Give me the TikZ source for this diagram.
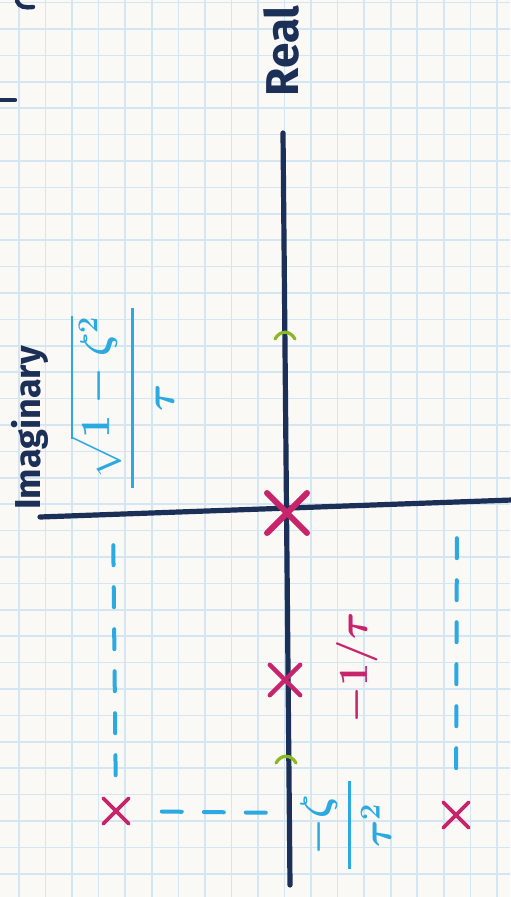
\documentclass[tikz,border=0pt]{standalone}
\usepackage{amsmath}
\usepackage{fontspec}
\newfontfamily\handfont{Fira Sans}
\usetikzlibrary{shapes.misc, positioning}
\definecolor{paper}{HTML}{FBF9F6}
\definecolor{gridblue}{HTML}{D4E6F2}
\definecolor{inknavy}{HTML}{1B2F57}
\definecolor{inkpink}{HTML}{C7246B}
\definecolor{inkcyan}{HTML}{2BA9E1}
\definecolor{inkgreen}{HTML}{8DB722}

\begin{document}
\begin{tikzpicture}[x=0.5pt, y=-0.5pt, line cap=round,
    axisline/.style={draw=inknavy, line width=2.6pt},
    pole/.style={cross out, draw=inkpink, line width=#1, inner sep=0pt},
    guide/.style={draw=inkcyan, line width=2pt, dash pattern=on 10pt off 11pt},
    greentick/.style={draw=inkgreen, line width=1.6pt},
    axislabel/.style={text=inknavy, rotate=90, inner sep=0pt},
    mathlabel/.style={rotate=90, inner sep=0pt}]
    % graph paper
    \fill[paper] (0,0) rectangle (510,897);
    \useasboundingbox (0,0) rectangle (510,897);
    \begin{scope}
        \clip (0,0) rectangle (510,897);
        \foreach \k in {0,...,18}
            \draw[gridblue, line width=0.8pt] ({19+26.55*\k},0) -- ({19+26.55*\k},897);
        \foreach \k in {-1,...,33}
            \draw[gridblue, line width=0.8pt] (0,{29+26.4*\k}) -- (510,{29+26.4*\k});
    \end{scope}

    % bits of writing cut off at the left edge
    \draw[inknavy, line width=2.2pt] (17,1) .. controls (19,7) and (25,8) .. (33,7);
    \draw[inknavy, line width=2.2pt] (0,100) -- (15,100);

    % axes
    \coordinate (reTop) at (283,133);
    \coordinate (reBot) at (290,885);
    \coordinate (imLeft) at (40,517);
    \coordinate (imRight) at (512,500);
    \draw[axisline] (reBot) -- (reTop);
    \draw[axisline] (imLeft) -- (imRight);

    \node[axislabel, font=\handfont\bfseries\fontsize{23}{23}\selectfont] (real) at (281,51) {Real};
    \node[axislabel, font=\handfont\bfseries\fontsize{18}{18}\selectfont] (imag) at (30,428) {Imaginary};

    % ticks on the real axis
    \coordinate (tickA) at (285,334);
    \coordinate (tickB) at (286,758);
    \draw[greentick] (tickA) ++(-10,5) .. controls +(5,-9) and +(-5,-9) .. ++(20,0);
    \draw[greentick] (tickB) ++(-10,5) .. controls +(5,-9) and +(-5,-9) .. ++(20,0);

    % poles
    \node[pole=3pt, minimum size=17pt] (origin) at (287,513) {};
    \node[pole=2.2pt, minimum size=13pt] (realpole) at (285,680) {};
    \node[pole=1.8pt, minimum size=11pt] (cpoleL) at (116,811) {};
    \node[pole=1.8pt, minimum size=11pt] (cpoleR) at (456,815) {};

    % projections of the complex poles
    \coordinate (imL) at (113,514);
    \coordinate (imR) at (457,502);
    \coordinate (reL) at (289,813);
    \draw[guide, shorten <=11.5pt, shorten >=8pt] (cpoleL) -- (imL);
    \draw[guide, shorten <=17pt, shorten >=17.5pt] (cpoleR) -- (imR);
    \draw[guide, shorten <=16.5pt, shorten >=8.5pt] (cpoleL) -- (reL);

    % values
    \node[mathlabel, text=inkcyan, font=\boldmath\fontsize{22}{26}\selectfont] (wd) at (122,398) {$\genfrac{}{}{1.6pt}{0}{\,\sqrt{1-\zeta^2}\,}{\tau}$};
    \node[mathlabel, text=inkpink, font=\boldmath\fontsize{20}{24}\selectfont] (invtau) at (357,668) {$-1/\tau$};
    \node[mathlabel, text=inkcyan, font=\boldmath\fontsize{20}{24}\selectfont] (sigma) at (346,825) {$\genfrac{}{}{1.4pt}{0}{\;-\zeta\;}{\tau^2}$};
\end{tikzpicture}
\end{document}
